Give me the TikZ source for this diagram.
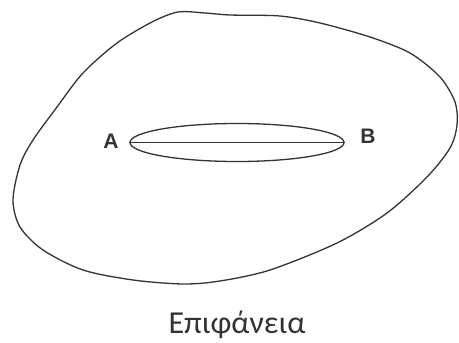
\documentclass[tikz,border=0pt]{standalone}
\usepackage{fontspec}
\setmainfont{Carlito}
\newfontfamily\lblfont{Liberation Sans}
\usetikzlibrary{shapes.geometric}
\definecolor{ink}{HTML}{333333}
\tikzset{
  outline/.style={draw=ink, line width=1.3pt},
  lbl/.style={text=ink, font=\lblfont\bfseries\fontsize{21}{21}\selectfont, inner sep=0pt},
}
\begin{document}
\begin{tikzpicture}[x=1pt,y=-1pt]
\useasboundingbox (0,0) rectangle (459,343);
\draw[outline] plot[smooth cycle, tension=0.5] coordinates {
 (178,12) (205,13) (230,15) (280,16) (320,23) (370,37) (410,53) (440,77) (455,102) (457,125)
 (450,148) (427,177) (387,213) (337,243) (270,270) (220,281) (183,284) (133,280)
 (83,270) (43,250) (20,227) (13,200) (20,165) (33,140) (57,107) (83,73) (117,43) (152,22)};
\node[outline, ellipse, minimum width=214pt, minimum height=38pt, inner sep=0pt] (lens) at (237,142.5) {};
\draw[outline] (lens.west) -- (lens.east);
\node[lbl] (A) at (111,141) {A};
\node[lbl] (B) at (368,136) {B};
\node[text=ink, font=\fontsize{32}{32}\selectfont, inner sep=0pt, anchor=base] (cap) at (237,333) {Επιφάνεια};
\end{tikzpicture}
\end{document}
